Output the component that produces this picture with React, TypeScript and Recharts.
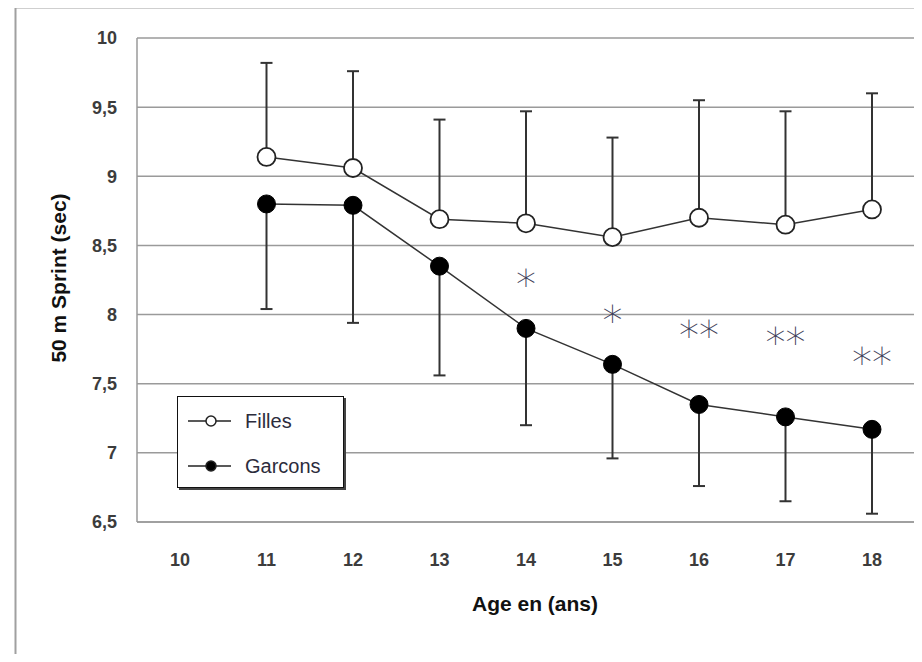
import * as React from "react"
import { LineChart, Line, XAxis, YAxis, CartesianGrid, ErrorBar, Legend, LabelList, Label } from "recharts"

// ages 10..18, no data at 10
const ages = ["10", "11", "12", "13", "14", "15", "16", "17", "18"]
const fillesMean = [null, 9.14, 9.06, 8.69, 8.66, 8.56, 8.7, 8.65, 8.76]
const fillesUpper = [null, 9.82, 9.76, 9.41, 9.47, 9.28, 9.55, 9.47, 9.6]
const garconsMean = [null, 8.8, 8.79, 8.35, 7.9, 7.64, 7.35, 7.26, 7.17]
const garconsLower = [null, 8.04, 7.94, 7.56, 7.2, 6.96, 6.76, 6.65, 6.56]
const starY = [null, null, null, null, 8.27, 8.01, 7.9, 7.85, 7.71]
const starText = ["", "", "", "", "*", "*", "**", "**", "**"]
const yTicks = [6.5, 7, 7.5, 8, 8.5, 9, 9.5, 10]

const data = ages.map((age, i) => ({
  age,
  filles: fillesMean[i],
  fillesErr: fillesMean[i] == null ? null : [0, +(fillesUpper[i]! - fillesMean[i]!).toFixed(2)],
  garcons: garconsMean[i],
  garconsErr: garconsMean[i] == null ? null : [+(garconsMean[i]! - garconsLower[i]!).toFixed(2), 0],
  star: starY[i],
  starLabel: starText[i],
}))

const tickStyle = { fontFamily: "Liberation Sans", fontSize: 18, fontWeight: 700, fill: "#3c3c3c" }

const renderStar = (props: any) => {
  const { x, y, value } = props
  if (!value || y == null) return null
  return (
    <text x={x} y={y + 22} textAnchor="middle" fontFamily="DejaVu Sans" fontWeight={200} fontSize={40} fill="#3d3d58">
      {value}
    </text>
  )
}

const LegendBox = (props: any) => {
  const items = (props.payload || []).filter((p: any) => p.dataKey === "filles" || p.dataKey === "garcons")
  return (
    <div style={{
      width: 167, height: 92, border: "1.5px solid #111", boxShadow: "2px 2px 0 #444",
      background: "#fff", boxSizing: "border-box", paddingTop: 6,
    }}>
      {items.map((it: any) => (
        <div key={it.dataKey} style={{ display: "flex", alignItems: "center", height: 36, marginBottom: 9 }}>
          <svg width={54} height={16} style={{ marginLeft: 9 }}>
            <line x1={1} y1={8} x2={44} y2={8} stroke="#222" strokeWidth={1.5} />
            <circle cx={24} cy={8} r={5} stroke="#222" strokeWidth={1.5} fill={it.dataKey === "filles" ? "#fff" : "#000"} />
          </svg>
          <span style={{ fontFamily: "Liberation Sans", fontSize: 20, color: "#2c2c3c", marginLeft: 4 }}>{it.value}</span>
        </div>
      ))}
    </div>
  )
}

export default function App() {
  // the chart svg covers the whole page; the outer frame is drawn inside it
  return (
    <div style={{ position: "relative", width: 906, height: 646 }}>
      <div style={{ position: "absolute", left: -8, top: -8 }}>
        <svg width={922} height={662} style={{ position: "absolute", left: 0, top: 0 }}>
          <path d="M15.5 662 V7.5 H922" fill="none" stroke="#a0a0a0" strokeWidth={2} />
        </svg>
        <LineChart width={922} height={662} data={data} margin={{ top: 38, right: 4, left: 0, bottom: 40 }}>
          <CartesianGrid vertical={false} stroke="#9a9a9a" strokeWidth={1.5} />
          <XAxis
            dataKey="age"
            height={100}
            padding={{ left: 43, right: 46 }}
            tickSize={0}
            tickMargin={31}
            tickLine={false}
            axisLine={{ stroke: "#9a9a9a", strokeWidth: 1.5 }}
            tick={tickStyle}
          >
            <Label
              content={() => (
                <text x={535} y={603} textAnchor="middle" dominantBaseline="central"
                  fontFamily="Liberation Sans" fontSize={21} fontWeight={700} fill="#111">
                  Age en (ans)
                </text>
              )}
            />
          </XAxis>
          <YAxis
            width={137}
            domain={[6.5, 10]}
            ticks={yTicks}
            type="number"
            tickSize={0}
            tickMargin={20}
            tickLine={false}
            axisLine={{ stroke: "#9a9a9a", strokeWidth: 1.5 }}
            tick={tickStyle}
            tickFormatter={(v: number) => String(v).replace(".", ",")}
          >
            <Label
              content={() => (
                <text x={58} y={278} textAnchor="middle" dominantBaseline="central" transform="rotate(-90 58 278)"
                  fontFamily="Liberation Sans" fontSize={21} fontWeight={700} fill="#111">
                  50 m Sprint (sec)
                </text>
              )}
            />
          </YAxis>
          <Legend
            layout="horizontal"
            verticalAlign="middle"
            align="center"
            content={<LegendBox />}
            wrapperStyle={{ left: 177, top: 396, width: 170 }}
          />
          <Line
            name="Filles"
            dataKey="filles"
            stroke="#333"
            strokeWidth={1.5}
            dot={{ r: 9, fill: "#fff", stroke: "#222", strokeWidth: 1.8 }}
            activeDot={false}
            isAnimationActive={false}
          >
            <ErrorBar dataKey="fillesErr" direction="y" width={6} stroke="#333" strokeWidth={2} isAnimationActive={false} />
          </Line>
          <Line
            name="Garcons"
            dataKey="garcons"
            stroke="#333"
            strokeWidth={1.5}
            dot={{ r: 9, fill: "#000", stroke: "#000", strokeWidth: 1 }}
            activeDot={false}
            isAnimationActive={false}
          >
            <ErrorBar dataKey="garconsErr" direction="y" width={6} stroke="#333" strokeWidth={2} isAnimationActive={false} />
          </Line>
          <Line
            dataKey="star"
            stroke="none"
            dot={false}
            activeDot={false}
            legendType="none"
            isAnimationActive={false}
          >
            <LabelList dataKey="starLabel" content={renderStar} />
          </Line>
        </LineChart>
      </div>
    </div>
  )
}
